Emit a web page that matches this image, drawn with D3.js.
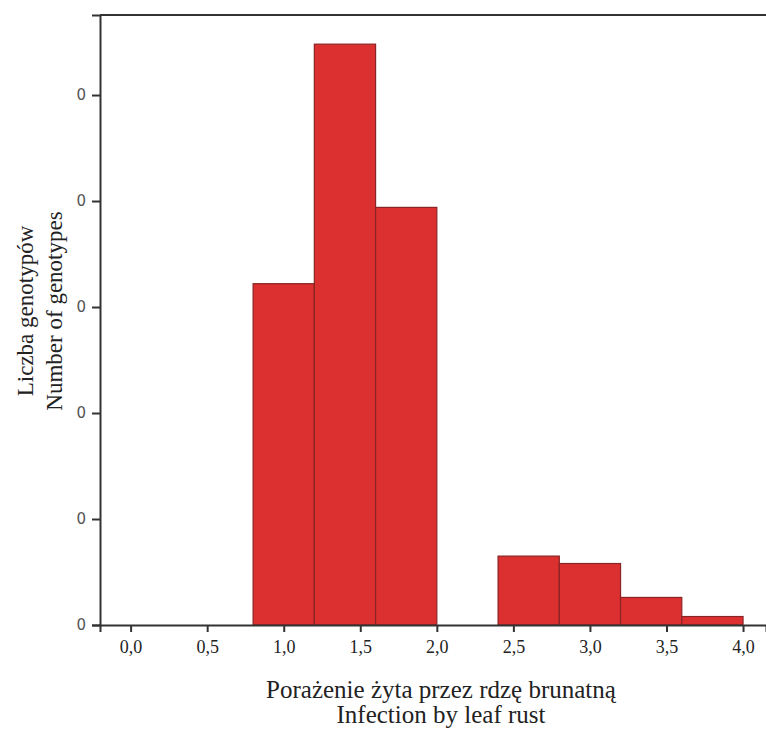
<!DOCTYPE html>
<html>
<head>
<meta charset="utf-8">
<script src="https://cdn.jsdelivr.net/npm/d3@7"></script>
<style>
  body { margin: 0; background: #fff; }
</style>
</head>
<body>
<div id="chart"></div>
<script>
// histogram bins (infection score) and counts
var binStart = [0.8, 1.2, 1.6, 2.4, 2.8, 3.2, 3.6];
var binEnd   = [1.2, 1.6, 2.0, 2.8, 3.2, 3.6, 4.0];
var counts   = [32.2, 54.8, 39.4, 6.5, 5.8, 2.6, 0.8];

var xTicks = [0, 0.5, 1, 1.5, 2, 2.5, 3, 3.5, 4];
var yTicks = [0, 10, 20, 30, 40, 50];
var yTickLabels = ["0", "0", "0", "0", "0", "0"]; // clipped in the source figure

var width = 766, height = 731;
var margin = {top: 15, right: 0, bottom: 106, left: 100};
var w = width - margin.left - margin.right,
    h = height - margin.top - margin.bottom;

var serif = "'Liberation Serif', 'Times New Roman', Times, serif";

var svg = d3.select("#chart").append("svg")
    .attr("width", width)
    .attr("height", height);

var g = svg.append("g")
    .attr("transform", "translate(" + margin.left + "," + margin.top + ")");

var x = d3.scaleLinear()
    .domain([-0.2, 4.15])
    .range([0, w]);

var y = d3.scaleLinear()
    .domain([0, 57.55])
    .range([h, 0]);

var bins = binStart.map(function(s, i) {
  return {x0: s, x1: binEnd[i], n: counts[i]};
});

g.selectAll("rect.bar")
    .data(bins)
  .enter().append("rect")
    .attr("class", "bar")
    .attr("x", function(d) { return x(d.x0); })
    .attr("width", function(d) { return x(d.x1) - x(d.x0); })
    .attr("y", function(d) { return y(d.n); })
    .attr("height", function(d) { return h - y(d.n); })
    .attr("fill", "#dc3030")
    .attr("stroke", "#8a2424")
    .attr("stroke-width", 1.2);

// x axis
var xAxis = g.append("g")
    .attr("transform", "translate(0," + h + ")")
    .call(d3.axisBottom(x)
      .tickValues(xTicks)
      .tickSize(7)
      .tickFormat(function(d) { return d3.format(".1f")(d).replace(".", ","); }));
xAxis.select(".domain").attr("stroke", "#333").attr("stroke-width", 2);
xAxis.selectAll(".tick line").attr("stroke", "#333").attr("stroke-width", 2);
xAxis.selectAll(".tick text")
    .attr("dy", "1.0em")
    .attr("fill", "#222")
    .style("font-family", serif)
    .style("font-size", "18px");

// y axis
var yAxis = g.append("g")
    .call(d3.axisLeft(y)
      .tickValues(yTicks)
      .tickSize(8)
      .tickPadding(6)
      .tickFormat(function(d, i) { return yTickLabels[i]; }));
yAxis.select(".domain").attr("stroke", "#333").attr("stroke-width", 2);
yAxis.selectAll(".tick text")
    .attr("fill", "#555")
    .style("font-family", "'DejaVu Sans', sans-serif")
    .style("font-size", "15px");
yAxis.selectAll(".tick line").attr("stroke", "#333").attr("stroke-width", 2);

// top frame line
g.append("line")
    .attr("x1", 0).attr("x2", w)
    .attr("y1", 0).attr("y2", 0)
    .attr("stroke", "#333")
    .attr("stroke-width", 2);

// axis titles
svg.append("text")
    .attr("x", 441).attr("y", 698)
    .attr("text-anchor", "middle")
    .attr("fill", "#222")
    .style("font-family", serif)
    .style("font-size", "25px")
    .text("Porażenie żyta przez rdzę brunatną");

svg.append("text")
    .attr("x", 441).attr("y", 723)
    .attr("text-anchor", "middle")
    .attr("fill", "#222")
    .style("font-family", serif)
    .style("font-size", "25px")
    .text("Infection by leaf rust");

svg.append("text")
    .attr("transform", "translate(33,311) rotate(-90)")
    .attr("text-anchor", "middle")
    .attr("fill", "#222")
    .style("font-family", serif)
    .style("font-size", "23px")
    .text("Liczba genotypów");

svg.append("text")
    .attr("transform", "translate(62,311) rotate(-90)")
    .attr("text-anchor", "middle")
    .attr("fill", "#222")
    .style("font-family", serif)
    .style("font-size", "23px")
    .text("Number of genotypes");
</script>
</body>
</html>
